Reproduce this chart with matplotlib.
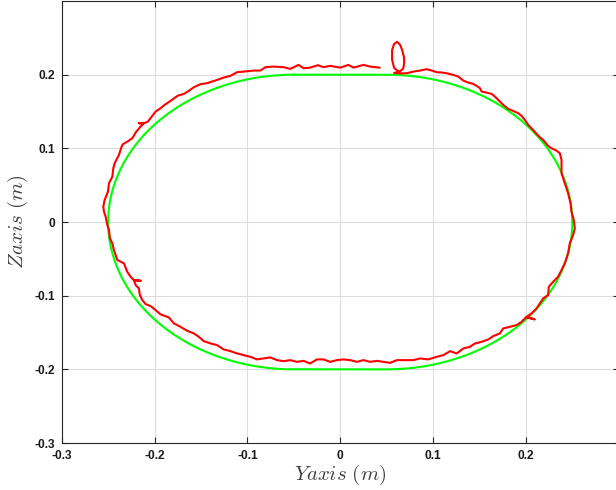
import numpy as np
import matplotlib
matplotlib.use("Agg")
import matplotlib.pyplot as plt

# Measured end-effector path (Y, Z) in metres, starting at the loop near the top
y_meas = [
    0.0634, 0.0581, 0.0559, 0.0559, 0.0581, 0.0613, 0.0645, 0.0667, 0.0688, 0.0688,
    0.0677, 0.0634, 0.0581, 0.0645, 0.0717, 0.0788, 0.0860, 0.0932, 0.0986, 0.1040,
    0.1094, 0.1147, 0.1218, 0.1272, 0.1326, 0.1380, 0.1433, 0.1470, 0.1505, 0.1524,
    0.1577, 0.1631, 0.1667, 0.1702, 0.1756, 0.1810, 0.1863, 0.1917, 0.1954, 0.1989,
    0.2025, 0.2078, 0.2115, 0.2151, 0.2186, 0.2240, 0.2276, 0.2330, 0.2366, 0.2384,
    0.2384, 0.2419, 0.2455, 0.2481, 0.2491, 0.2516, 0.2527, 0.2509, 0.2473, 0.2455,
    0.2419, 0.2384, 0.2347, 0.2294, 0.2247, 0.2240, 0.2186, 0.2151, 0.2115, 0.2061,
    0.2008, 0.2097, 0.2000, 0.1954, 0.1900, 0.1828, 0.1756, 0.1720, 0.1648, 0.1595,
    0.1524, 0.1452, 0.1398, 0.1326, 0.1255, 0.1183, 0.1111, 0.1040, 0.0949, 0.0860,
    0.0788, 0.0699, 0.0610, 0.0538, 0.0466, 0.0395, 0.0323, 0.0251, 0.0180, 0.0108,
    0.0035, -0.0035, -0.0108, -0.0180, -0.0251, -0.0323, -0.0395, -0.0466, -0.0538, -0.0610,
    -0.0681, -0.0753, -0.0825, -0.0896, -0.0968, -0.1040, -0.1111, -0.1183, -0.1255, -0.1326,
    -0.1398, -0.1470, -0.1524, -0.1577, -0.1648, -0.1720, -0.1792, -0.1846, -0.1935, -0.1989,
    -0.2043, -0.2097, -0.2132, -0.2158, -0.2169, -0.2204, -0.2223, -0.2151, -0.2223, -0.2258,
    -0.2294, -0.2330, -0.2401, -0.2438, -0.2455, -0.2481, -0.2491, -0.2509, -0.2527, -0.2545,
    -0.2552, -0.2538, -0.2502, -0.2491, -0.2455, -0.2444, -0.2430, -0.2384, -0.2355, -0.2341,
    -0.2294, -0.2240, -0.2197, -0.2151, -0.2115, -0.2169, -0.2115, -0.2072, -0.2025, -0.1989,
    -0.1935, -0.1892, -0.1828, -0.1749, -0.1685, -0.1631, -0.1577, -0.1505, -0.1433, -0.1326,
    -0.1255, -0.1183, -0.1111, -0.1040, -0.0932, -0.0860, -0.0806, -0.0717, -0.0610, -0.0538,
    -0.0448, -0.0395, -0.0323, -0.0240, -0.0180, -0.0108, 0.0000, 0.0089, 0.0143, 0.0251,
    0.0323, 0.0423,
]
z_meas = [
    0.2038, 0.2092, 0.2201, 0.2337, 0.2418, 0.2446, 0.2405, 0.2337, 0.2228, 0.2147,
    0.2079, 0.2038, 0.2024, 0.2018, 0.2020, 0.2042, 0.2056, 0.2075, 0.2056, 0.2034,
    0.2029, 0.2020, 0.1997, 0.1974, 0.1920, 0.1893, 0.1875, 0.1848, 0.1817, 0.1770,
    0.1757, 0.1739, 0.1702, 0.1658, 0.1590, 0.1535, 0.1508, 0.1477, 0.1440, 0.1386,
    0.1318, 0.1250, 0.1196, 0.1151, 0.1114, 0.1033, 0.1001, 0.0969, 0.0933, 0.0842,
    0.0662, 0.0526, 0.0390, 0.0254, 0.0140, 0.0027, -0.0086, -0.0177, -0.0289, -0.0425,
    -0.0561, -0.0652, -0.0743, -0.0811, -0.0879, -0.0992, -0.1037, -0.1105, -0.1173, -0.1240,
    -0.1287, -0.1322, -0.1295, -0.1355, -0.1399, -0.1423, -0.1444, -0.1512, -0.1549, -0.1594,
    -0.1626, -0.1648, -0.1694, -0.1716, -0.1784, -0.1753, -0.1807, -0.1830, -0.1865, -0.1852,
    -0.1875, -0.1875, -0.1875, -0.1912, -0.1898, -0.1885, -0.1898, -0.1875, -0.1898, -0.1875,
    -0.1865, -0.1875, -0.1898, -0.1865, -0.1865, -0.1920, -0.1885, -0.1898, -0.1875, -0.1889,
    -0.1875, -0.1838, -0.1852, -0.1865, -0.1830, -0.1807, -0.1784, -0.1753, -0.1730, -0.1671,
    -0.1648, -0.1617, -0.1558, -0.1512, -0.1477, -0.1423, -0.1376, -0.1295, -0.1254, -0.1196,
    -0.1141, -0.1114, -0.1060, -0.0992, -0.0901, -0.0856, -0.0788, -0.0798, -0.0788, -0.0743,
    -0.0675, -0.0561, -0.0516, -0.0380, -0.0289, -0.0221, -0.0109, -0.0041, 0.0072, 0.0140,
    0.0208, 0.0299, 0.0412, 0.0526, 0.0615, 0.0730, 0.0798, 0.0910, 0.1023, 0.1056,
    0.1091, 0.1137, 0.1227, 0.1295, 0.1341, 0.1341, 0.1341, 0.1363, 0.1440, 0.1499,
    0.1545, 0.1590, 0.1644, 0.1716, 0.1739, 0.1780, 0.1830, 0.1871, 0.1885, 0.1929,
    0.1961, 0.1984, 0.2034, 0.2042, 0.2056, 0.2056, 0.2102, 0.2110, 0.2102, 0.2079,
    0.2133, 0.2088, 0.2096, 0.2129, 0.2102, 0.2120, 0.2096, 0.2133, 0.2096, 0.2133,
    0.2110, 0.2096,
]

# Desired path: stadium with straight half-length and end radius (metres)
half_straight = 0.05
radius = 0.20

x_ticks = [-0.3, -0.2, -0.1, 0, 0.1, 0.2]
y_ticks = [-0.3, -0.2, -0.1, 0, 0.1, 0.2]
x_tick_labels = ["-0.3", "-0.2", "-0.1", "0", "0.1", "0.2"]
y_tick_labels = ["-0.3", "-0.2", "-0.1", "0", "0.1", "0.2"]

# Build the stadium outline
t_right = np.linspace(np.pi / 2, -np.pi / 2, 181)
t_left = np.linspace(-np.pi / 2, -3 * np.pi / 2, 181)
ref_y = np.concatenate([
    [-half_straight], half_straight + radius * np.cos(t_right),
    -half_straight + radius * np.cos(t_left),
])
ref_z = np.concatenate([
    [radius], radius * np.sin(t_right), radius * np.sin(t_left),
])

plt.rcParams["mathtext.fontset"] = "cm"
fig = plt.figure(figsize=(6.16, 4.90), dpi=100)
ax = fig.add_axes([0.1002, 0.0959, 0.9042, 0.9020])

ax.plot(ref_y, ref_z, color="#00ff00", lw=1.5, zorder=2)
ax.plot(y_meas, z_meas, color="#ff0000", lw=1.5, zorder=3)

ax.set_xlim(-0.3, 0.3)
ax.set_ylim(-0.3, 0.3)
ax.set_xticks(x_ticks)
ax.set_yticks(y_ticks)
ax.set_xticklabels(x_tick_labels)
ax.set_yticklabels(y_tick_labels)

axis_col = "#262626"
for sp in ax.spines.values():
    sp.set_color(axis_col)
    sp.set_linewidth(0.8)
ax.tick_params(direction="in", length=4, width=0.8, color=axis_col,
               top=True, right=True, labelsize=8.6, labelcolor="#1a1a1a", pad=5)
for lab in ax.get_xticklabels() + ax.get_yticklabels():
    lab.set_fontfamily("Liberation Sans")
    lab.set_fontweight("bold")

ax.grid(True, color="#dddddd", lw=0.8)
ax.set_axisbelow(True)

ax.set_xlabel(r"$Yaxis\ (m)$", fontsize=15, color="#404040", labelpad=1)
ax.set_ylabel(r"$Zaxis\ (m)$", fontsize=15, color="#404040", labelpad=3)

fig.savefig("out.png", dpi=100)
